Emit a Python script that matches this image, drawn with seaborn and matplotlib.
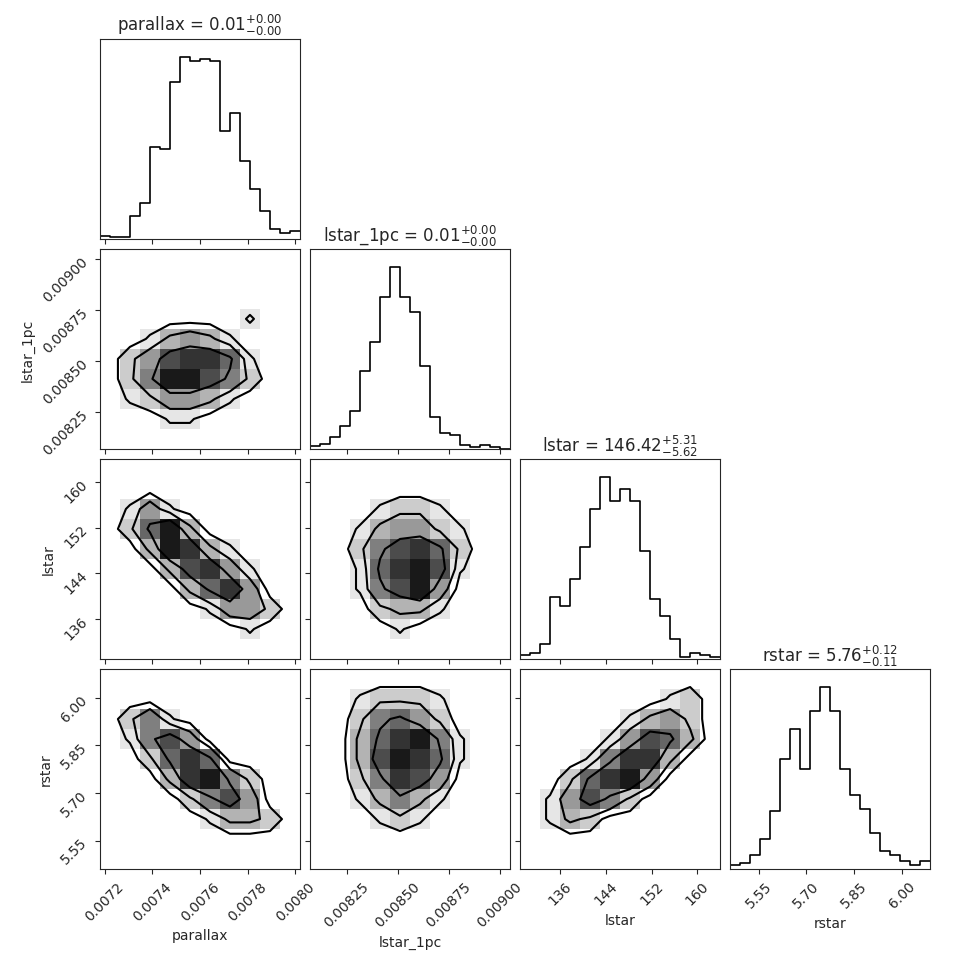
import numpy as np
import pandas as pd
import seaborn as sns
import matplotlib.pyplot as plt

names = ["parallax", "lstar_1pc", "lstar", "rstar"]
titles = [r"parallax = $0.01_{-0.00}^{+0.00}$",
          r"lstar_1pc = $0.01_{-0.00}^{+0.00}$",
          r"lstar = $146.42_{-5.62}^{+5.31}$",
          r"rstar = $5.76_{-0.11}^{+0.12}$"]
ranges = [(0.00718, 0.00802), (0.00807, 0.00905), (129.0, 164.0), (5.46, 6.09)]
ticks = [[0.0072, 0.0074, 0.0076, 0.0078, 0.0080],
         [0.00825, 0.00850, 0.00875, 0.00900],
         [136, 144, 152, 160],
         [5.55, 5.70, 5.85, 6.00]]
tick_labels = [["0.0072", "0.0074", "0.0076", "0.0078", "0.0080"],
               ["0.00825", "0.00850", "0.00875", "0.00900"],
               ["136", "144", "152", "160"],
               ["5.55", "5.70", "5.85", "6.00"]]

# 1D histogram counts (20 bins over each range)
hist_parallax = [3, 2, 2, 23, 36, 92, 90, 157, 182, 178, 180, 178, 108, 126, 78, 50, 28, 10, 6, 8]
hist_lstar_1pc = [3, 5, 12, 23, 38, 78, 107, 152, 182, 152, 137, 83, 32, 16, 14, 4, 2, 4, 2, 0]
hist_lstar = [4, 6, 15, 62, 53, 80, 112, 150, 182, 158, 170, 158, 108, 60, 43, 20, 2, 6, 4, 2]
hist_rstar = [4, 6, 14, 30, 58, 110, 140, 100, 158, 182, 158, 100, 74, 60, 36, 18, 14, 8, 4, 8]
hists = [hist_parallax, hist_lstar_1pc, hist_lstar, hist_rstar]

# 2D density (10x10, rows from top of panel to bottom), key = (x index, y index)
dens = {
    (0, 1): ["0000000000", "0000000000", "0000000000", "0000000100", "0013431000",
             "0247886100", "0259975200", "0124431000", "0001100000", "0000000000"],
    (0, 2): ["0000000000", "0000000000", "0141000000", "0269300000", "0039831000",
             "0003784100", "0000368400", "0000014420", "0000000100", "0000000000"],
    (0, 3): ["0000000000", "0000000000", "0251000000", "0157400000", "0026860000",
             "0003895200", "0000257400", "0000013320", "0000000000", "0000000000"],
    (1, 2): ["0000000000", "0000000000", "0001221000", "0013442100", "0025786200",
             "0016897100", "0015794000", "0002331000", "0000100000", "0000000000"],
    (1, 3): ["0000000000", "0012221000", "0025642000", "0036895100", "0037986100",
             "0025874000", "0013531000", "0001210000", "0000000000", "0000000000"],
    (2, 3): ["0000000000", "0000000120", "0000013420", "0000147630", "0001588300",
             "0026894000", "0147520000", "0132000000", "0000000000", "0000000000"],
}

sns.set_style("ticks")
fig, axes = plt.subplots(4, 4, figsize=(9.7, 9.7), dpi=100)
fig.subplots_adjust(left=0.103, right=0.959, bottom=0.103, top=0.959, wspace=0.05, hspace=0.05)

for i in range(4):
    for j in range(4):
        ax = axes[i, j]
        if j > i:
            ax.set_axis_off()
            continue
        ax.set_xlim(ranges[j])
        if i == j:
            edges = np.linspace(ranges[i][0], ranges[i][1], 21)
            centers = 0.5 * (edges[:-1] + edges[1:])
            df = pd.DataFrame({"x": centers, "w": hists[i]})
            sns.histplot(data=df, x="x", weights="w", bins=20, binrange=ranges[i],
                         element="step", fill=False, color="black", linewidth=1.2, ax=ax)
            ax.set_xlim(ranges[i])
            ax.set_ylim(0, max(hists[i]) * 1.1)
            ax.set_yticks([])
            ax.set_ylabel("")
            ax.set_title(titles[i], fontsize=12)
        else:
            grid = np.array([[int(c) for c in row] for row in dens[(j, i)]], float)[::-1]
            xe = np.linspace(ranges[j][0], ranges[j][1], 11)
            ye = np.linspace(ranges[i][0], ranges[i][1], 11)
            ax.pcolormesh(xe, ye, grid, cmap="gray_r", vmin=0, vmax=10)
            xc = 0.5 * (xe[:-1] + xe[1:])
            yc = 0.5 * (ye[:-1] + ye[1:])
            ax.contour(xc, yc, grid, levels=[0.8, 2.5, 5.5], colors="black", linewidths=1.5)
            ax.set_ylim(ranges[i])
            ax.set_yticks(ticks[i])
            if j == 0:
                ax.set_yticklabels(tick_labels[i], rotation=45)
                ax.set_ylabel(names[i])
            else:
                ax.set_yticklabels([])
        ax.set_xticks(ticks[j])
        if i == 3:
            ax.set_xticklabels(tick_labels[j], rotation=45)
            ax.set_xlabel(names[j])
        else:
            ax.set_xticklabels([])
            ax.set_xlabel("")

fig.savefig("out.png", dpi=100)
